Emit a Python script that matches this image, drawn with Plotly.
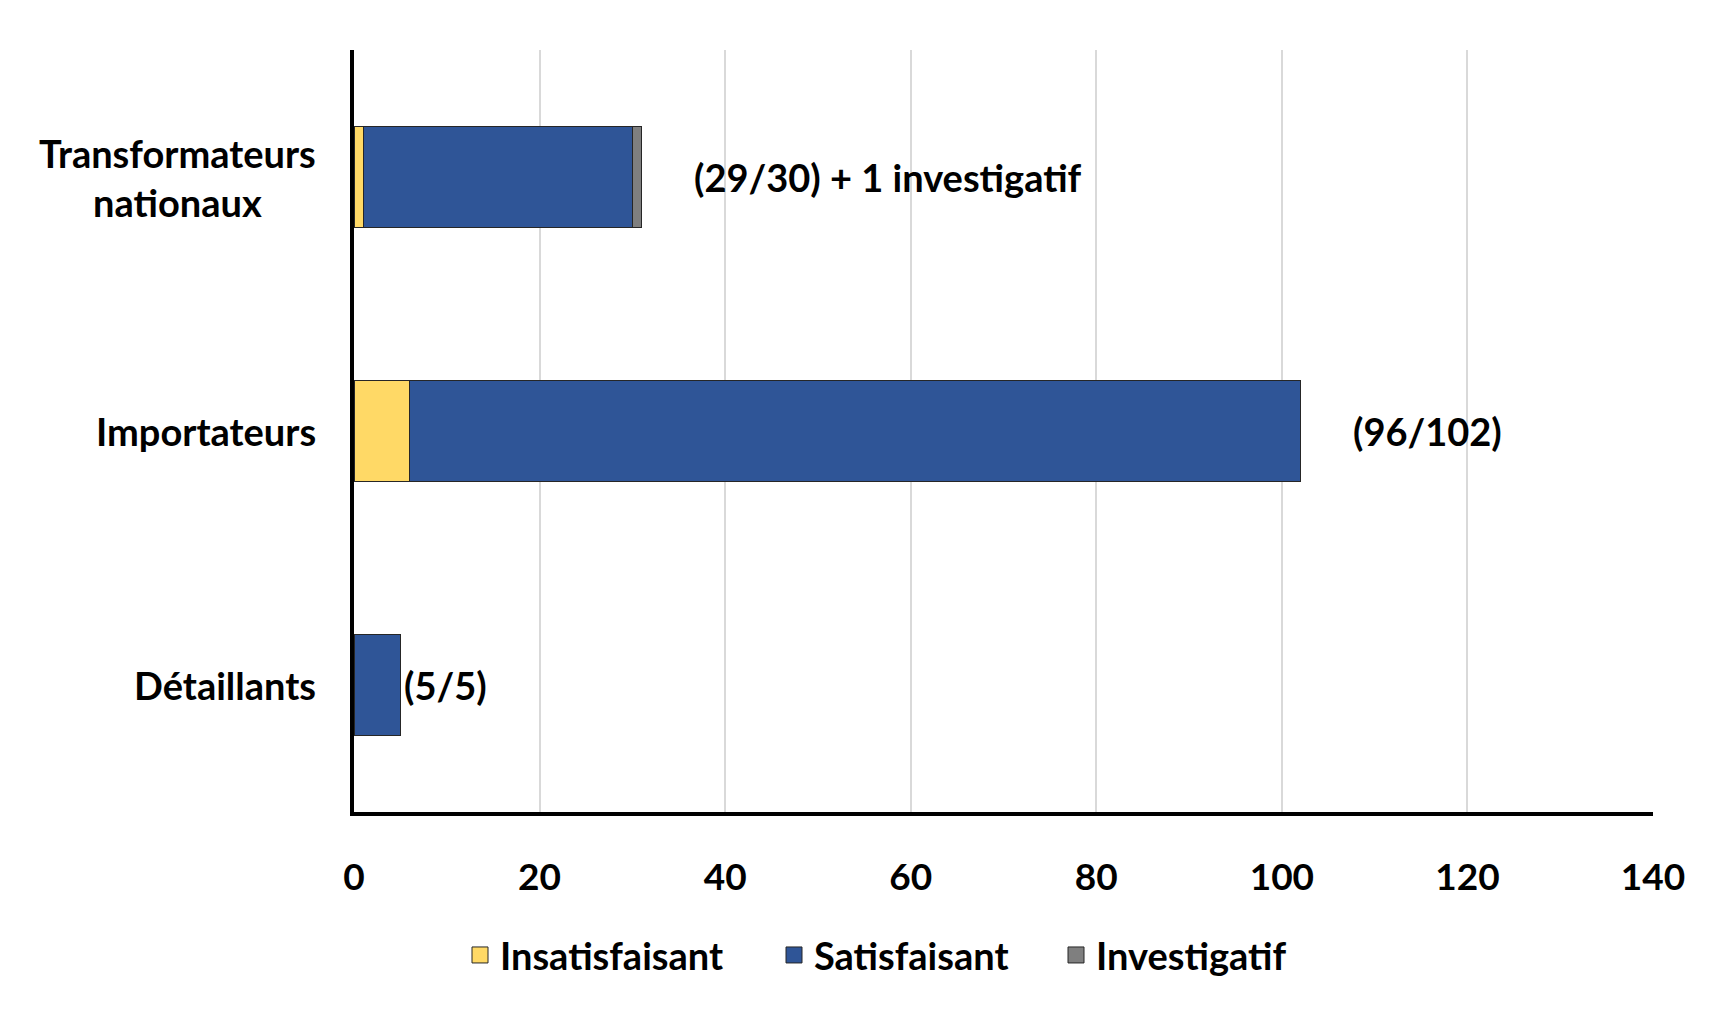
import plotly.graph_objects as go

categories = ["Détaillants", "Importateurs", "Transformateurs nationaux"]
cat_labels = ["Détaillants", "Importateurs", "Transformateurs<br>nationaux"]
insatisfaisant = [0, 6, 1]
satisfaisant = [5, 96, 29]
investigatif = [0, 0, 1]
bar_notes = ["(5/5)", "(96/102)", "(29/30) + 1 investigatif"]
note_x = [5.2, 107.5, 36.4]
x_ticks = [0, 20, 40, 60, 80, 100, 120, 140]

series_names = ["Insatisfaisant", "Satisfaisant", "Investigatif"]
series_colors = ["#FFD966", "#2F5597", "#7F7F7F"]
series_values = [insatisfaisant, satisfaisant, investigatif]

FONT = "Lato"
FS = 38
line = dict(color="#262626", width=1)

# figure-pixel geometry
L, R, T, B = 354, 83, 50, 212
PW = 1736 - L - R
legend_box_centers = [480, 794, 1076]
legend_names = ["legend", "legend2", "legend3"]

fig = go.Figure()
for name, col, vals in zip(series_names, series_colors, series_values):
    fig.add_trace(go.Bar(y=categories, x=vals, orientation="h", name=name,
                         marker=dict(color=col, line=line), showlegend=False))

for name, col, lg in zip(series_names, series_colors, legend_names):
    fig.add_trace(go.Scatter(x=[None], y=[None], mode="markers", name=name,
                             marker=dict(symbol="square", size=24, color=col,
                                         line=dict(color="#262626", width=1)),
                             legend=lg, showlegend=True))

for c, t, xv in zip(categories, bar_notes, note_x):
    fig.add_annotation(x=xv, y=c, text=t, showarrow=False, xanchor="left",
                       font=dict(family=FONT, size=FS, color="black", weight="bold"))

for c, t in zip(categories, cat_labels):
    fig.add_annotation(x=0, xref="paper", y=c, text=t, showarrow=False, xanchor="right",
                       xshift=-36, align="center",
                       font=dict(family=FONT, size=FS, color="black", weight="bold"))

legend_font = dict(family=FONT, size=FS, color="black", weight="bold")
legend_layout = {}
for lg, cx in zip(legend_names, legend_box_centers):
    legend_layout[lg] = dict(x=(cx - 20 - L) / PW, xanchor="left", y=-0.188, yanchor="middle",
                             font=legend_font, bgcolor="rgba(0,0,0,0)", borderwidth=0,
                             itemsizing="trace")

fig.update_layout(
    width=1736, height=1024,
    margin=dict(l=L, r=R, t=T, b=B, autoexpand=False),
    paper_bgcolor="white", plot_bgcolor="white",
    barmode="stack", bargap=0.6,
    font=dict(family=FONT, size=FS, color="black", weight="bold"),
    showlegend=True,
    xaxis=dict(range=[0, 140], tickvals=x_ticks, showgrid=True, gridcolor="#D9D9D9",
               gridwidth=2, showline=True, linecolor="black", linewidth=4,
               zeroline=False, ticks="", ticklabelstandoff=30,
               tickfont=dict(family=FONT, size=37, color="black", weight="bold")),
    yaxis=dict(showticklabels=False, showline=True, linecolor="black", linewidth=4,
               showgrid=False, ticks="", categoryorder="array", categoryarray=categories),
    **legend_layout,
)

fig.write_html("out.html")
